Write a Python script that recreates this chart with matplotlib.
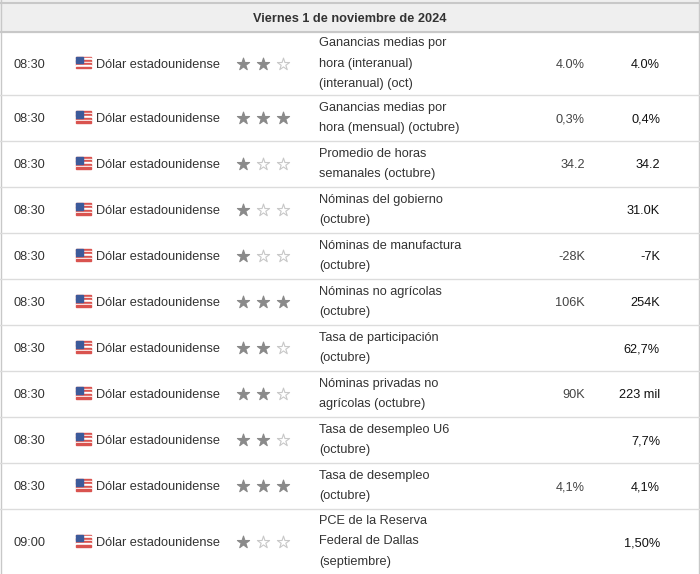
import matplotlib.pyplot as plt
from matplotlib.patches import Rectangle

title = "Viernes 1 de noviembre de 2024"
times = ["08:30"] * 10 + ["09:00"]
currency = "Dólar estadounidense"
stars = [2, 3, 1, 1, 1, 3, 2, 2, 2, 3, 1]
events = [
    "Ganancias medias por\nhora (interanual)\n(interanual) (oct)",
    "Ganancias medias por\nhora (mensual) (octubre)",
    "Promedio de horas\nsemanales (octubre)",
    "Nóminas del gobierno\n(octubre)",
    "Nóminas de manufactura\n(octubre)",
    "Nóminas no agrícolas\n(octubre)",
    "Tasa de participación\n(octubre)",
    "Nóminas privadas no\nagrícolas (octubre)",
    "Tasa de desempleo U6\n(octubre)",
    "Tasa de desempleo\n(octubre)",
    "PCE de la Reserva\nFederal de Dallas\n(septiembre)",
]
forecast = ["4.0%", "0,3%", "34.2", "", "-28K", "106K", "", "90K", "", "4,1%", ""]
previous = ["4.0%", "0,4%", "34.2", "31.0K", "-7K", "254K", "62,7%", "223 mil", "7,7%", "4,1%", "1,50%"]
row_edges = [32, 95, 141, 187, 233, 279, 325, 371, 417, 463, 509, 574]

W, H = 700, 574
fig = plt.figure(figsize=(7, 5.74), dpi=100)
ax = fig.add_axes([0, 0, 1, 1])
ax.set_xlim(0, W)
ax.set_ylim(H, 0)
ax.axis("off")

font = "Liberation Sans"
fs = 9.2
ax.add_patch(Rectangle((0, 0), W, row_edges[0], color="#efefef", zorder=0))
ax.plot([0, W], [3, 3], color="#c8c8c8", lw=1.5)
ax.plot([0, W], [row_edges[0], row_edges[0]], color="#c8c8c8", lw=1.5)
ax.plot([1, 1], [0, H], color="#c8c8c8", lw=1)
ax.plot([699, 699], [0, H], color="#c8c8c8", lw=1)
ax.text(W / 2, 17, title, ha="center", va="center_baseline", fontsize=fs,
        fontweight="bold", color="#333333", family=font)

for i in range(len(times)):
    y0, y1 = row_edges[i], row_edges[i + 1]
    yc = (y0 + y1) / 2
    if i < len(times) - 1:
        ax.plot([0, W], [y1, y1], color="#dcdcdc", lw=1)
    ax.text(13, yc, times[i], ha="left", va="center_baseline", fontsize=fs, color="#333333", family=font)
    # flag
    for k in range(7):
        ax.add_patch(Rectangle((76, yc - 7 + k * 12 / 7), 15, 12 / 7,
                               color="#d9534f" if k % 2 == 0 else "white", zorder=2))
    ax.add_patch(Rectangle((76, yc - 7), 7, 6.5, color="#3c5a9a", zorder=3))
    ax.text(96, yc, currency, ha="left", va="center_baseline", fontsize=fs, color="#333333", family=font)
    for s in range(3):
        filled = s < stars[i]
        ax.scatter(243 + s * 20, yc, marker="*", s=85,
                   facecolor="#8a8a8a" if filled else "white",
                   edgecolor="#8a8a8a" if filled else "#c8c8c8", linewidths=0.8, zorder=3)
    ax.text(319, yc, events[i], ha="left", va="center", fontsize=fs, color="#333333",
            family=font, linespacing=1.95)
    ax.text(585, yc, forecast[i], ha="right", va="center_baseline", fontsize=fs, color="#444444", family=font)
    ax.text(660, yc, previous[i], ha="right", va="center_baseline", fontsize=fs, color="#111111", family=font)

fig.savefig("out.png", dpi=100)
